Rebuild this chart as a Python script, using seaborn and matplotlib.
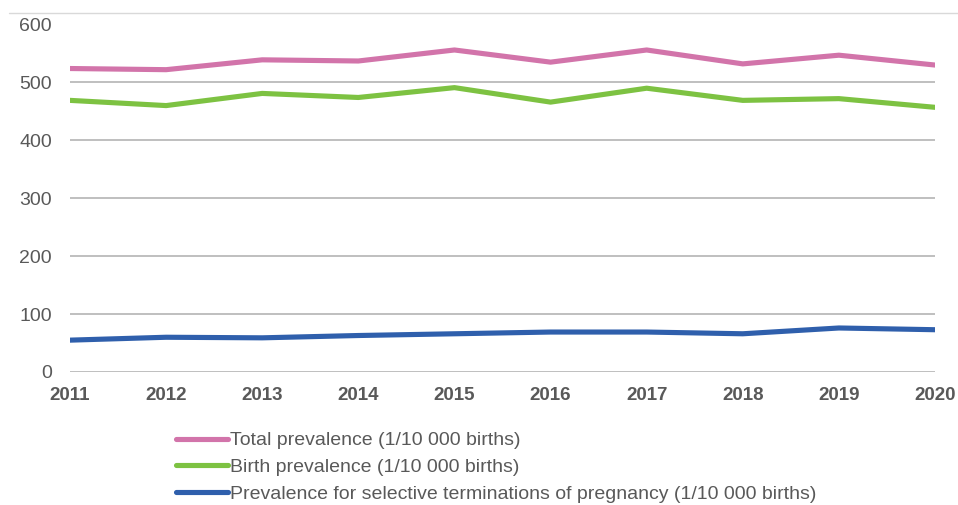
import pandas as pd
import seaborn as sns
import matplotlib.pyplot as plt
from matplotlib.lines import Line2D

years = [2011, 2012, 2013, 2014, 2015, 2016, 2017, 2018, 2019, 2020]
total_prev = [524, 522, 539, 537, 556, 535, 556, 532, 547, 530]
birth_prev = [469, 460, 481, 474, 491, 466, 490, 469, 472, 457]
top_prev = [55, 60, 59, 63, 66, 69, 69, 66, 76, 73]

labels = [
    "Total prevalence (1/10 000 births)",
    "Birth prevalence (1/10 000 births)",
    "Prevalence for selective terminations of pregnancy (1/10 000 births)",
]
colors = ["#D274AA", "#7DC242", "#2F5FAC"]
yticks = [0, 100, 200, 300, 400, 500, 600]

df = pd.DataFrame({"year": years * 3,
                   "value": total_prev + birth_prev + top_prev,
                   "series": [labels[0]] * 10 + [labels[1]] * 10 + [labels[2]] * 10})

sns.set_theme(style="white")
plt.rcParams["font.family"] = ["Liberation Sans", "DejaVu Sans"]

fig = plt.figure(figsize=(9.58, 5.05), dpi=100)
ax = fig.add_axes([70 / 958, 1 - 372 / 505, 865 / 958, 347.5 / 505])

sns.lineplot(data=df, x="year", y="value", hue="series", palette=colors,
             linewidth=3.7, ax=ax, legend=False, zorder=3)

ax.set_xlim(2011, 2020)
ax.set_ylim(0, 600)
ax.set_yticks(yticks)
ax.set_xticks(years)
ax.yaxis.grid(True, color="#BFBFBF", linewidth=1.4)
ax.xaxis.grid(False)
for s in ax.spines.values():
    s.set_visible(False)
ax.set_xlabel("")
ax.set_ylabel("")
ax.tick_params(axis="y", labelsize=14, labelcolor="#595959", length=0, pad=13)
ax.tick_params(axis="x", labelsize=13.5, labelcolor="#595959", length=0, pad=11)
for t in ax.get_xticklabels():
    t.set_fontweight("bold")

# thin border line at top
fig.add_artist(Line2D([9 / 958, 1], [1 - 13 / 505, 1 - 13 / 505],
                      color="#D9D9D9", linewidth=1))

handles = [Line2D([0], [0], color=c, linewidth=3.7, solid_capstyle="round") for c in colors]
leg = fig.legend(handles, labels, loc="upper left",
                 bbox_to_anchor=(166 / 958, 1 - 422 / 505),
                 frameon=False, fontsize=14, handlelength=2.7,
                 handletextpad=0.1, labelspacing=0.48, borderpad=0)
for t in leg.get_texts():
    t.set_color("#595959")

fig.savefig("out.png", dpi=100)
